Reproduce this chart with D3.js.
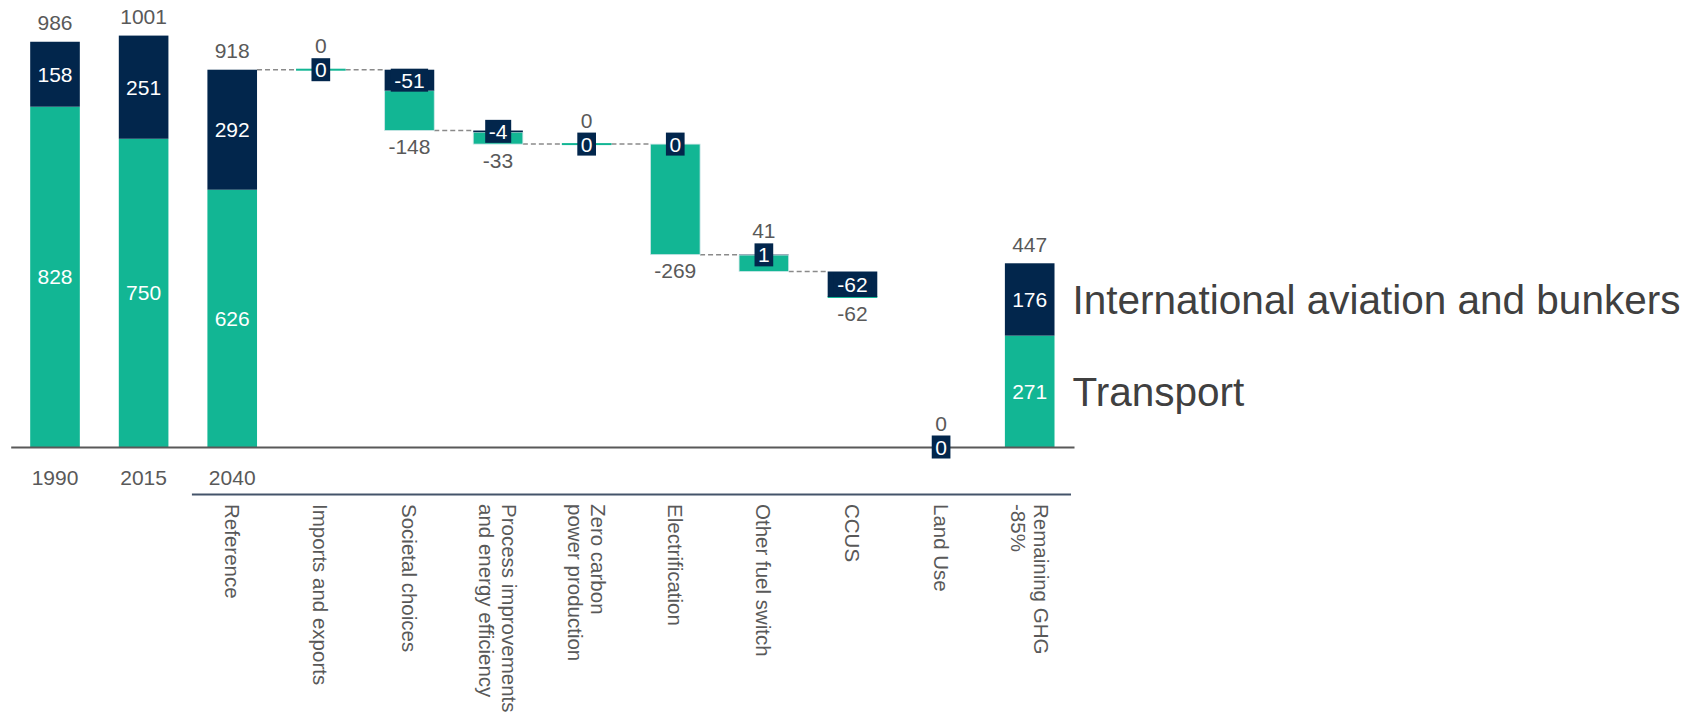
<!DOCTYPE html>
<html>
<head>
<meta charset="utf-8">
<script src="https://cdn.jsdelivr.net/npm/d3@7/dist/d3.min.js"></script>
<style>
  html, body { margin: 0; padding: 0; background: #ffffff; }
  svg { display: block; font-family: "Liberation Sans", Arial, sans-serif; }
</style>
</head>
<body>
<script>
// Columns of the bridge: three emission levels, the levers, and what remains
const columns = [
  "1990", "2015", "Reference", "Imports and exports", "Societal choices",
  "Process improvements\nand energy efficiency", "Zero carbon\npower production",
  "Electrification", "Other fuel switch", "CCUS", "Land Use", "Remaining GHG\n-85%"
];
// Horizontal year labels under the first three columns
const yearLabels = ["1990", "2015", "2040"];
// Column type: full stacks from zero, floating levers, or a lever sitting on zero
const kind = ["total", "total", "total", "step", "step", "step", "step", "step", "step", "step", "ground", "total"];
// Transport emissions (green)
const transport = [828, 750, 626, 0, -97, -29, 0, -269, 40, 0, 0, 271];
// International aviation and bunkers (navy)
const aviation = [158, 251, 292, 0, -51, -4, 0, 0, 1, -62, 0, 176];
// Series names shown next to the last stack
const seriesNames = ["International aviation and bunkers", "Transport"];

const W = 1696, H = 717;
const GREEN = "#12b694", NAVY = "#02264c", GREY = "#595959";

const svg = d3.select("body").append("svg").attr("width", W).attr("height", H);
svg.append("rect").attr("width", W).attr("height", H).attr("fill", "#fff");

const x = d3.scaleBand().domain(columns).range([10.7, 1074])
  .paddingInner(0.44).paddingOuter(0.22);
const y = d3.scaleLinear().domain([0, 1000]).range([447, 36]);
const bw = x.bandwidth();

// Running level: every lever is laid down as a drop from the previous level
let level = 0;
const layout = columns.map((c, i) => {
  const av = aviation[i], tr = transport[i], tot = av + tr;
  let top, mid, bottom, end;
  if (kind[i] === "total") {
    top = tot; mid = tr; bottom = 0; end = tot;
  } else if (kind[i] === "ground") {
    top = 0; mid = 0; bottom = 0; end = level;
  } else {
    top = level; mid = top - Math.abs(av); bottom = mid - Math.abs(tr); end = bottom;
  }
  level = end;
  return { c, i, k: kind[i], av, tr, tot, top, mid, bottom, end };
});

const g = svg.append("g");

// Dashed connectors between consecutive levels
layout.forEach((d, i) => {
  if (d.k !== "step" || i === 0) return;
  const p = layout[i - 1];
  g.append("line")
    .attr("x1", x(p.c) + bw).attr("x2", x(d.c))
    .attr("y1", y(p.end)).attr("y2", y(p.end))
    .attr("stroke", "#8a8a8a").attr("stroke-width", 1.5)
    .attr("stroke-dasharray", "5,3");
});

// Green (transport) segments; levers without change show as a thin line
g.selectAll("rect.tr").data(layout.filter(d => d.k !== "ground")).join("rect")
  .attr("class", "tr")
  .attr("x", d => x(d.c))
  .attr("width", bw)
  .attr("y", d => {
    const h = y(d.bottom) - y(d.mid);
    return h < 1 ? y(d.mid) - 1 : y(d.mid);
  })
  .attr("height", d => Math.max(2, y(d.bottom) - y(d.mid)))
  .attr("fill", GREEN)
  .attr("stroke", d => d.k === "step" && y(d.bottom) - y(d.mid) > 2 ? "#cfe6e8" : "none")
  .attr("stroke-width", 0.8);

// Navy (aviation) segments
g.selectAll("rect.av").data(layout.filter(d => d.top !== d.mid)).join("rect")
  .attr("class", "av")
  .attr("x", d => x(d.c))
  .attr("width", bw)
  .attr("y", d => y(d.top))
  .attr("height", d => y(d.mid) - y(d.top))
  .attr("fill", NAVY);

// Baseline
const axis = svg.append("g").attr("transform", `translate(0,${y(0)})`)
  .call(d3.axisBottom(x).tickSize(0).tickSizeOuter(0).tickFormat(""));
axis.select(".domain").attr("stroke", GREY).attr("stroke-width", 2);

const labels = svg.append("g").attr("font-size", 21);

// Value labels on the full stacks
layout.filter(d => d.k === "total").forEach(d => {
  const cx = x(d.c) + bw / 2;
  labels.append("text").attr("x", cx).attr("y", y(d.top) - 19).attr("dy", "0.36em")
    .attr("text-anchor", "middle").attr("fill", GREY).text(d.tot);
  labels.append("text").attr("x", cx).attr("y", (y(d.top) + y(d.mid)) / 2).attr("dy", "0.36em")
    .attr("text-anchor", "middle").attr("fill", "#fff").text(d.av);
  labels.append("text").attr("x", cx).attr("y", (y(d.mid) + y(d.bottom)) / 2).attr("dy", "0.36em")
    .attr("text-anchor", "middle").attr("fill", "#fff").text(d.tr);
});

// Lever labels: navy tag with the aviation value, overall change above or below
layout.filter(d => d.k !== "total").forEach(d => {
  const cx = x(d.c) + bw / 2;
  const cy = (y(d.top) + y(d.mid)) / 2;
  const t = labels.append("text").attr("x", cx).attr("y", cy).attr("dy", "0.36em")
    .attr("text-anchor", "middle").attr("fill", "#fff").text(d.av);
  const bb = t.node().getBBox();
  labels.insert("rect", () => t.node())
    .attr("x", bb.x - 3.5).attr("width", bb.width + 7)
    .attr("y", cy - 11.5).attr("height", 23)
    .attr("fill", NAVY);
  const ty = d.tot >= 0 ? y(d.top) - 24 : y(d.bottom) + 16;
  labels.append("text").attr("x", cx).attr("y", ty).attr("dy", "0.36em")
    .attr("text-anchor", "middle").attr("fill", GREY).text(d.tot);
});

// Year labels
yearLabels.forEach((t, i) => {
  labels.append("text").attr("x", x(columns[i]) + bw / 2).attr("y", 485)
    .attr("text-anchor", "middle").attr("fill", GREY).text(t);
});

// Separator above the lever names
const sepStart = x(columns[2]) - x.step() * x.paddingInner() / 2 + 4;
svg.append("line").attr("x1", sepStart).attr("x2", x.range()[1] - 3)
  .attr("y1", 494.5).attr("y2", 494.5)
  .attr("stroke", "#44546a").attr("stroke-width", 2);

// Rotated lever names
const lh = 23;
columns.slice(2).forEach(c => {
  const lines = c.split("\n");
  const txt = labels.append("text")
    .attr("transform", `translate(${x(c) + bw / 2},504) rotate(90)`)
    .attr("font-size", 20.5)
    .attr("fill", GREY);
  lines.forEach((ln, j) => {
    txt.append("tspan").attr("x", 0)
      .attr("y", (j - (lines.length - 1) / 2) * lh)
      .attr("dy", "0.36em").text(ln);
  });
});

// Series names beside the last stack
const last = layout[layout.length - 1];
const lx = x(last.c) + bw + 18;
svg.append("text").attr("x", lx).attr("y", (y(last.top) + y(last.mid)) / 2).attr("dy", "0.36em")
  .attr("font-size", 40.5).attr("fill", "#404040").text(seriesNames[0]);
svg.append("text").attr("x", lx).attr("y", (y(last.mid) + y(last.bottom)) / 2).attr("dy", "0.36em")
  .attr("font-size", 40.5).attr("fill", "#404040").text(seriesNames[1]);
</script>
</body>
</html>
